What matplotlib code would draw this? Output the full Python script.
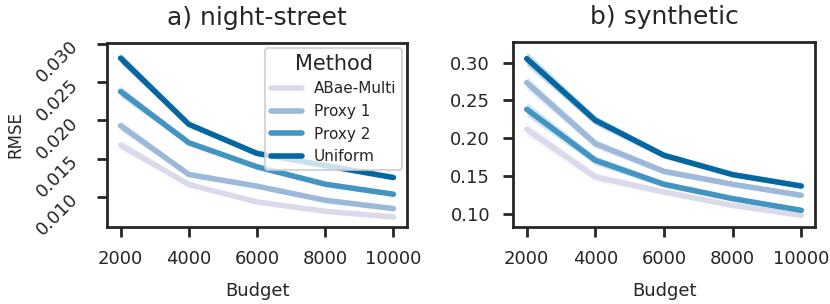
import numpy as np
import matplotlib
matplotlib.use('Agg')
from matplotlib import pyplot as plt
import seaborn as sns

budget = [2000, 4000, 6000, 8000, 10000]
methods = ['ABae-Multi', 'Proxy 1', 'Proxy 2', 'Uniform']

# a) night-street
night_abae = [0.01677, 0.01162, 0.00934, 0.00812, 0.00738]
night_proxy1 = [0.0193, 0.01293, 0.0114, 0.00956, 0.00847]
night_proxy2 = [0.02376, 0.01707, 0.01393, 0.01166, 0.01035]
night_uniform = [0.02812, 0.01948, 0.01568, 0.0141, 0.01253]
night_err = [0.0007, 0.0003, 0.0002, 0.0002, 0.0002]

# b) synthetic
syn_abae = [0.2117, 0.1486, 0.1287, 0.111, 0.0978]
syn_proxy1 = [0.2735, 0.1927, 0.156, 0.1389, 0.1243]
syn_proxy2 = [0.2382, 0.1706, 0.1389, 0.1199, 0.1044]
syn_uniform = [0.3053, 0.2236, 0.1773, 0.1517, 0.1366]
syn_err = [0.009, 0.006, 0.004, 0.003, 0.003]

sns.set_theme(style='ticks')
plt.rcParams['font.family'] = ['DejaVu Sans']
colors = sns.color_palette('PuBu', 4)

fig = plt.figure(figsize=(8.3, 3.04), dpi=100)
ax1 = fig.add_axes([107 / 830, 1 - 227 / 304, 300 / 830, 184 / 304])
ax2 = fig.add_axes([513 / 830, 1 - 227 / 304, 302 / 830, 185 / 304])

panels = [
    (ax1, 'a) night-street', [night_abae, night_proxy1, night_proxy2, night_uniform], night_err),
    (ax2, 'b) synthetic', [syn_abae, syn_proxy1, syn_proxy2, syn_uniform], syn_err),
]

for ax, title, series, err in panels:
    for name, vals, c in zip(methods, series, colors):
        v = np.array(vals)
        e = np.array(err)
        ax.fill_between(budget, v - e, v + e, color=c, alpha=0.25, linewidth=0)
        ax.plot(budget, v, color=c, linewidth=4, label=name, solid_capstyle='round')
    ax.set_title(title, fontsize=18, color='#262626', pad=13)
    ax.set_xlabel('Budget', fontsize=13, labelpad=10)
    ax.set_xticks(budget)
    ax.tick_params(axis='both', labelsize=13, length=7.5, width=2, pad=9)
    for s in ax.spines.values():
        s.set_linewidth(2)
        s.set_color('#262626')

ax1.set_ylim(0.00607, 0.0301)
ax1.set_yticks([0.010, 0.015, 0.020, 0.025, 0.030])
ax1.set_yticklabels(['0.010', '0.015', '0.020', '0.025', '0.030'],
                    rotation=45, ha='right', va='center', rotation_mode='anchor')
ax1.tick_params(axis='y', pad=15)
ax1.set_ylabel('RMSE', fontsize=12, labelpad=6)
ax2.set_ylim(0.0823, 0.3274)
ax2.set_yticks([0.10, 0.15, 0.20, 0.25, 0.30])
ax2.set_yticklabels(['0.10', '0.15', '0.20', '0.25', '0.30'])

leg = ax1.legend(title='Method', loc='upper right', fontsize=11, title_fontsize=15,
                 frameon=True, handlelength=2.0, borderaxespad=0.3)
leg.get_frame().set_linewidth(1.5)

plt.savefig('out.png', dpi=100)
